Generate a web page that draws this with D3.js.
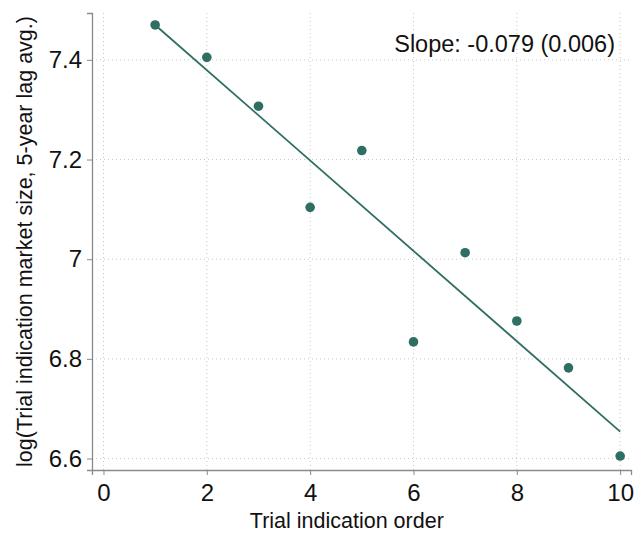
<!DOCTYPE html>
<html>
<head>
<meta charset="utf-8">
<script src="https://cdn.jsdelivr.net/npm/d3@7"></script>
<style>
  body { margin: 0; background: #fff; }
  svg text { font-family: "Liberation Sans", Arial, sans-serif; fill: #111; }
</style>
</head>
<body>
<svg id="chart" width="634" height="535"></svg>
<script>
// Data
let order = [1, 2, 3, 4, 5, 6, 7, 8, 9, 10];
let logSize = [7.470, 7.405, 7.307, 7.104, 7.218, 6.834, 7.013, 6.876, 6.782, 6.605];
let fitX = [1, 10];
let fitY = [7.470, 6.654];
let xTicks = [0, 2, 4, 6, 8, 10];
let yTicks = [6.6, 6.8, 7, 7.2, 7.4];
let slopeLabel = "Slope: -0.079 (0.006)";

let color = "#2e6e63";

let width = 634, height = 535;
let margin = { top: 13, right: 3, bottom: 65, left: 92 };

let svg = d3.select("#chart");

let x = d3.scaleLinear().domain([-0.222, 10.21]).range([margin.left, width - margin.right]);
let y = d3.scaleLinear().domain([6.577, 7.494]).range([height - margin.bottom, margin.top]);

// Gridlines
let grid = svg.append("g");
grid.selectAll(".gy").data(yTicks).enter().append("line")
    .attr("x1", margin.left).attr("x2", width - margin.right)
    .attr("y1", d => y(d)).attr("y2", d => y(d))
    .attr("stroke", "#c8c8c8").attr("stroke-dasharray", "1,3");
grid.selectAll(".gx").data(xTicks).enter().append("line")
    .attr("x1", d => x(d)).attr("x2", d => x(d))
    .attr("y1", margin.top).attr("y2", height - margin.bottom)
    .attr("stroke", "#c8c8c8").attr("stroke-dasharray", "1,3");

// Axes
let xAxis = svg.append("g")
    .attr("transform", `translate(0,${height - margin.bottom})`)
    .call(d3.axisBottom(x).tickValues(xTicks).tickSize(5).tickPadding(9).tickFormat(d3.format("d")));
let yAxis = svg.append("g")
    .attr("transform", `translate(${margin.left},0)`)
    .call(d3.axisLeft(y).tickValues(yTicks).tickSize(5).tickPadding(5).tickFormat(d => d === 7 ? "7" : d3.format(".1f")(d)));

[xAxis, yAxis].forEach(a => {
    a.select(".domain").attr("stroke", "#8a8a8a").attr("stroke-width", 1.3);
    a.selectAll(".tick line").attr("stroke", "#8a8a8a");
    a.selectAll(".tick text").attr("font-size", 24).attr("fill", "#111");
});

// Axis titles
svg.append("text")
    .attr("x", (x(0) + x(10)) / 2 - 15).attr("y", 528)
    .attr("text-anchor", "middle").attr("font-size", 21.5)
    .text("Trial indication order");
svg.append("text")
    .attr("transform", `translate(32,${(margin.top + height - margin.bottom) / 2}) rotate(-90)`)
    .attr("text-anchor", "middle").attr("font-size", 21.5)
    .text("log(Trial indication market size, 5-year lag avg.)");

// Fit line
let line = d3.line().x(d => x(d[0])).y(d => y(d[1]));
svg.append("path")
    .datum(d3.zip(fitX, fitY))
    .attr("d", line)
    .attr("fill", "none").attr("stroke", color).attr("stroke-width", 1.8);

// Points
svg.selectAll(".pt").data(d3.zip(order, logSize)).enter().append("circle")
    .attr("cx", d => x(d[0])).attr("cy", d => y(d[1]))
    .attr("r", 4.8).attr("fill", color);

// Slope annotation
svg.append("text")
    .attr("x", 615).attr("y", 52)
    .attr("text-anchor", "end").attr("font-size", 23.5)
    .text(slopeLabel);
</script>
</body>
</html>
